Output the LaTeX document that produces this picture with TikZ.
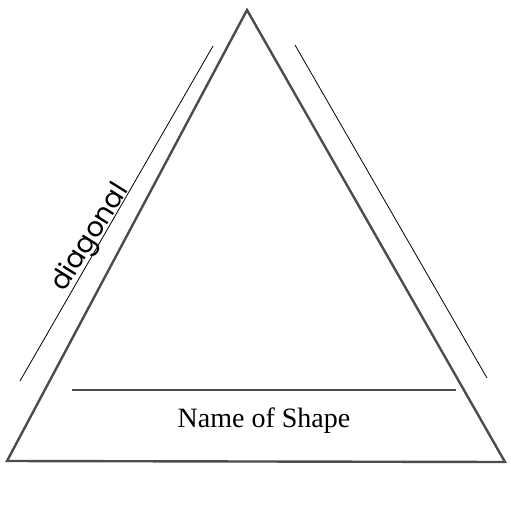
\documentclass[tikz,border=0pt]{standalone}
\usepackage{fontspec}
\newfontfamily\labelfont{Poppins}
\newfontfamily\namefont{Liberation Serif}
\begin{document}
\begin{tikzpicture}[x=1pt,y=-1pt,
  shapeline/.style={draw=black!70, line width=2.4pt, line join=miter},
  guide/.style={draw=black, line width=0.8pt},
  rule/.style={draw=black!70, line width=1.6pt}]
\useasboundingbox (0,0) rectangle (511,512);
\coordinate (apex) at (247,10);
\coordinate (bl) at (7,461);
\coordinate (br) at (505,462);
\draw[shapeline] (apex) -- (br) -- (bl) -- cycle;
\coordinate (l1) at (20,381);
\coordinate (l2) at (213,46);
\coordinate (r1) at (295,45);
\coordinate (r2) at (487,378);
\draw[guide] (l1) -- (l2);
\draw[guide] (r1) -- (r2);
\coordinate (h1) at (72,390);
\coordinate (h2) at (456,390);
\draw[rule] (h1) -- (h2);
\node[font=\namefont\fontsize{28}{32}\selectfont, inner sep=0pt] (name) at (264,421) {Name of Shape};
\node[font=\labelfont\fontsize{27}{30}\selectfont, inner sep=0pt, rotate=58] (diag) at (91,238) {diagonal};
\end{tikzpicture}
\end{document}
